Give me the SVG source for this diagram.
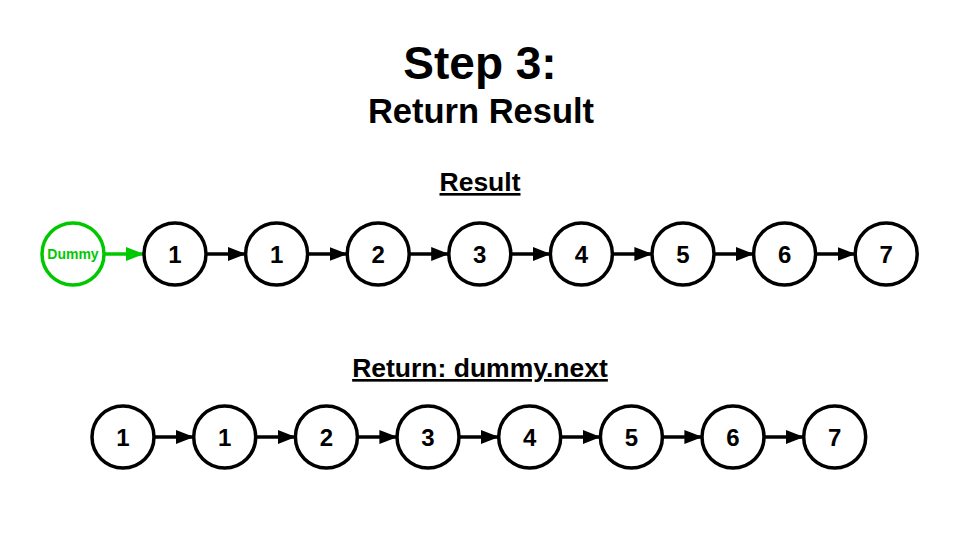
<svg xmlns="http://www.w3.org/2000/svg" width="960" height="540" viewBox="0 0 960 540">
<style>
text{font-family:"Liberation Sans",Arial,sans-serif;font-weight:bold;text-anchor:middle;fill:#000}
.n circle{fill:#fff;stroke:#000;stroke-width:3.5}
.n text{font-size:24px}
.c line{stroke:#000;stroke-width:3.5}
.g circle{fill:#fff;stroke:#00c800;stroke-width:3.5}
.g text{fill:#00c800;font-size:14px}
.h{font-size:26.5px;text-decoration:underline}
</style>
<defs>
<marker id="a" markerUnits="userSpaceOnUse" markerWidth="18" markerHeight="14" refX="17" refY="7" orient="auto"><path d="M0,0 L18,7 L0,14 Z" fill="#000"/></marker>
<marker id="ag" markerUnits="userSpaceOnUse" markerWidth="18" markerHeight="14" refX="17" refY="7" orient="auto"><path d="M0,0 L18,7 L0,14 Z" fill="#00c800"/></marker>
</defs>
<rect width="960" height="540" fill="#fff"/>
<text x="480" y="79" font-size="46">Step 3:</text>
<text x="481" y="123" font-size="34.5">Return Result</text>
<text class="h" x="480" y="191">Result</text>
<text class="h" x="480" y="377">Return: dummy.next</text>
<g id="connectors" class="c">
<line x1="105" y1="254" x2="143" y2="254" style="stroke:#00c800" marker-end="url(#ag)"/>
<line x1="207" y1="254" x2="245" y2="254" marker-end="url(#a)"/>
<line x1="308.6" y1="254" x2="346.6" y2="254" marker-end="url(#a)"/>
<line x1="410.2" y1="254" x2="448.2" y2="254" marker-end="url(#a)"/>
<line x1="511.8" y1="254" x2="549.8" y2="254" marker-end="url(#a)"/>
<line x1="613.4" y1="254" x2="651.4" y2="254" marker-end="url(#a)"/>
<line x1="715" y1="254" x2="753" y2="254" marker-end="url(#a)"/>
<line x1="816.6" y1="254" x2="854.6" y2="254" marker-end="url(#a)"/>
<line x1="155" y1="437" x2="193" y2="437" marker-end="url(#a)"/>
<line x1="256.7" y1="437" x2="294.7" y2="437" marker-end="url(#a)"/>
<line x1="358.4" y1="437" x2="396.4" y2="437" marker-end="url(#a)"/>
<line x1="460" y1="437" x2="498" y2="437" marker-end="url(#a)"/>
<line x1="561.7" y1="437" x2="599.7" y2="437" marker-end="url(#a)"/>
<line x1="663.4" y1="437" x2="701.4" y2="437" marker-end="url(#a)"/>
<line x1="765" y1="437" x2="803" y2="437" marker-end="url(#a)"/>
</g>
<g id="dummy" class="g"><circle cx="73" cy="254" r="31"/><text x="73" y="259">Dummy</text></g>
<g id="t1" class="n"><circle cx="175" cy="254" r="31"/><text x="175" y="263">1</text></g>
<g id="t2" class="n"><circle cx="276.6" cy="254" r="31"/><text x="276.6" y="263">1</text></g>
<g id="t3" class="n"><circle cx="378.2" cy="254" r="31"/><text x="378.2" y="263">2</text></g>
<g id="t4" class="n"><circle cx="479.8" cy="254" r="31"/><text x="479.8" y="263">3</text></g>
<g id="t5" class="n"><circle cx="581.4" cy="254" r="31"/><text x="581.4" y="263">4</text></g>
<g id="t6" class="n"><circle cx="683" cy="254" r="31"/><text x="683" y="263">5</text></g>
<g id="t7" class="n"><circle cx="784.6" cy="254" r="31"/><text x="784.6" y="263">6</text></g>
<g id="t8" class="n"><circle cx="886.2" cy="254" r="31"/><text x="886.2" y="263">7</text></g>
<g id="b1" class="n"><circle cx="123" cy="437" r="31"/><text x="123" y="446">1</text></g>
<g id="b2" class="n"><circle cx="224.7" cy="437" r="31"/><text x="224.7" y="446">1</text></g>
<g id="b3" class="n"><circle cx="326.4" cy="437" r="31"/><text x="326.4" y="446">2</text></g>
<g id="b4" class="n"><circle cx="428" cy="437" r="31"/><text x="428" y="446">3</text></g>
<g id="b5" class="n"><circle cx="529.7" cy="437" r="31"/><text x="529.7" y="446">4</text></g>
<g id="b6" class="n"><circle cx="631.4" cy="437" r="31"/><text x="631.4" y="446">5</text></g>
<g id="b7" class="n"><circle cx="733" cy="437" r="31"/><text x="733" y="446">6</text></g>
<g id="b8" class="n"><circle cx="834.7" cy="437" r="31"/><text x="834.7" y="446">7</text></g>
</svg>
